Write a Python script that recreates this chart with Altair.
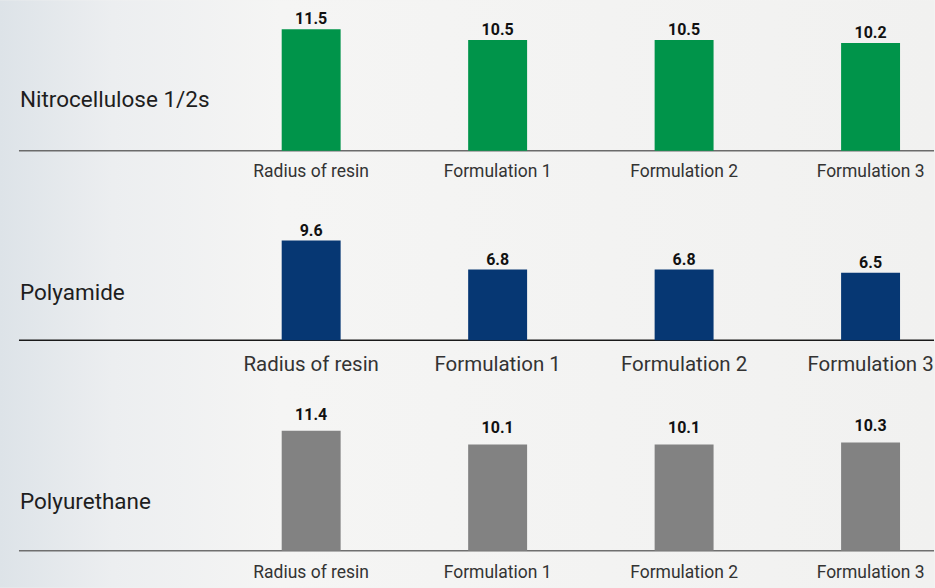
import altair as alt
import pandas as pd

# Data
categories = ["Radius of resin", "Formulation 1", "Formulation 2", "Formulation 3"]
nitrocellulose = [11.5, 10.5, 10.5, 10.2]
polyamide = [9.6, 6.8, 6.8, 6.5]
polyurethane = [11.4, 10.1, 10.1, 10.3]
row_names = ["Nitrocellulose 1/2s", "Polyamide", "Polyurethane"]
bar_colors = ["#00944a", "#063773", "#828282"]

W = 935
FONT = "Roboto"

backdrop = alt.LinearGradient(
    gradient="linear",
    x1=0, x2=1, y1=0, y2=0,
    stops=[
        alt.GradientStop(color="#dde3e8", offset=0),
        alt.GradientStop(color="#eceef0", offset=0.12),
        alt.GradientStop(color="#f5f5f4", offset=0.3),
        alt.GradientStop(color="#f1f1f0", offset=1),
    ],
)


def panel(name, values, color, height, base, px_per_unit, label_y, cat_y,
          cat_size, value_dy, rule_color):
    df = pd.DataFrame({"category": categories, "value": values})
    single = pd.DataFrame({"name": [name]})

    x = alt.X("category:N", sort=categories, axis=None,
              scale=alt.Scale(type="point", range=[311.5, 871.5], padding=0))
    yscale = alt.Scale(domain=[0, 12], range=[base, base - 12 * px_per_unit],
                       nice=False)
    y = alt.Y("value:Q", scale=yscale, axis=None)

    bg = alt.Chart(single).mark_rect(color=backdrop).encode(
        x=alt.value(0), x2=alt.value(W), y=alt.value(0), y2=alt.value(height)
    )
    bars = alt.Chart(df).mark_bar(width=59, color=color).encode(x=x, y=y)
    baseline = alt.Chart(single).mark_rule(color=rule_color, strokeWidth=1.5).encode(
        x=alt.value(19), x2=alt.value(W),
        y=alt.YDatum(0, type="quantitative", scale=yscale, axis=None),
    )
    values_txt = alt.Chart(df).mark_text(
        baseline="bottom", dy=value_dy, font=FONT, fontSize=16,
        fontWeight="bold", color="#111111",
    ).encode(x=x, y=y, text=alt.Text("value:Q", format=".1f"))
    cats = alt.Chart(df).mark_text(
        baseline="middle", font=FONT, fontSize=cat_size, color="#333333"
    ).encode(x=x, y=alt.value(cat_y), text="category:N")
    label = alt.Chart(single).mark_text(
        align="left", baseline="middle", font=FONT, fontSize=22.5, color="#1e1e1e"
    ).encode(x=alt.value(20), y=alt.value(label_y), text="name:N")

    return alt.layer(bg, baseline, bars, values_txt, cats, label).properties(
        width=W, height=height
    )


p1 = panel(row_names[0], nitrocellulose, bar_colors[0], 190, 150.7, 10.58,
           100, 172, 17.5, -2, "#6b6b6b")
p2 = panel(row_names[1], polyamide, bar_colors[1], 190, 150.3, 10.4,
           102.7, 175, 20.5, -2, "#1a1a1a")
p3 = panel(row_names[2], polyurethane, bar_colors[2], 208, 171, 10.53,
           122, 193, 17.5, -8, "#6f6f6f")

chart = (
    alt.vconcat(p1, p2, p3, spacing=0)
    .properties(padding=0, background="#f3f3f2")
    .configure_view(strokeWidth=0)
)

chart.save("out.html", embed_options={"renderer": "svg", "actions": False})
